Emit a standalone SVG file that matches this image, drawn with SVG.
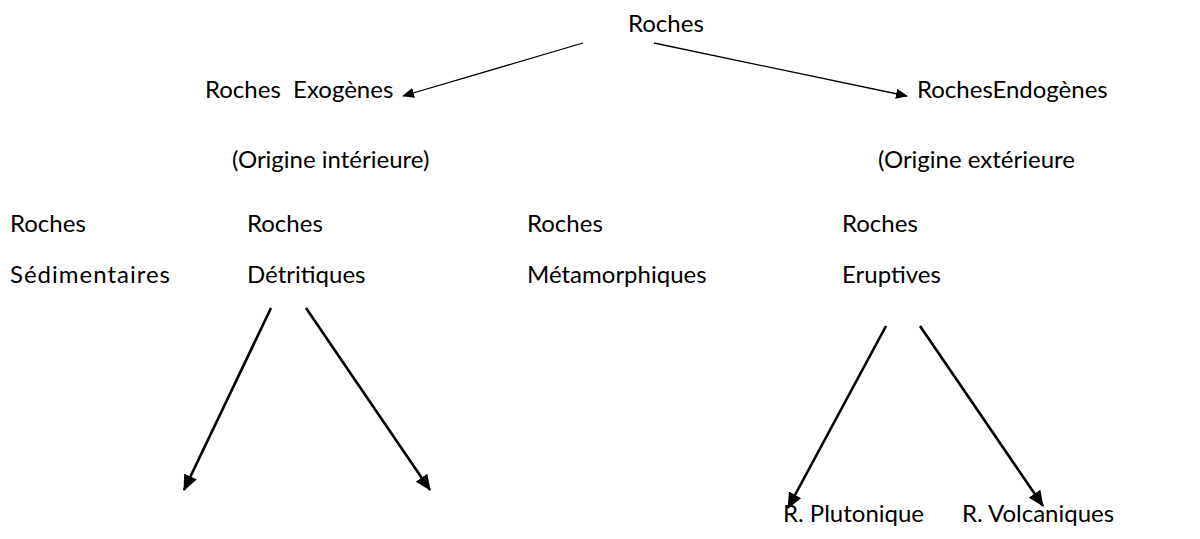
<svg xmlns="http://www.w3.org/2000/svg" width="1200" height="539" viewBox="0 0 1200 539">
<style>
text{font-family:Lato,"Open Sans","Liberation Sans",sans-serif;font-size:24px;fill:#000}
.thin{stroke:#000;stroke-width:1.3;fill:none}
.thick{stroke:#000;stroke-width:2.6;fill:none}
</style>
<defs>
<marker id="hs" markerWidth="12" markerHeight="10" refX="11" refY="5" orient="auto" markerUnits="userSpaceOnUse"><path d="M0,0 L12,5 L0,10 z" fill="#000"/></marker>
<marker id="hl" markerWidth="16" markerHeight="14" refX="15" refY="7" orient="auto" markerUnits="userSpaceOnUse"><path d="M0,0 L16,7 L0,14 z" fill="#000"/></marker>
</defs>
<rect width="1200" height="539" fill="#fff"/>
<g id="roches"><text x="628" y="32">Roches</text></g>
<g id="exogenes"><text x="205" y="98" xml:space="preserve">Roches  Exogènes</text><text x="232" y="168">(Origine intérieure)</text></g>
<g id="endogenes"><text x="917" y="98">RochesEndogènes</text><text x="878" y="168">(Origine extérieure</text></g>
<g id="sedimentaires"><text x="10" y="232">Roches</text><text x="10" y="283" textLength="160">Sédimentaires</text></g>
<g id="detritiques"><text x="247" y="232">Roches</text><text x="247" y="283">Détritiques</text></g>
<g id="metamorphiques"><text x="527" y="232">Roches</text><text x="527" y="283">Métamorphiques</text></g>
<g id="eruptives"><text x="842" y="232">Roches</text><text x="842" y="283">Eruptives</text></g>
<g id="plutonique"><text x="783" y="522">R. Plutonique</text></g>
<g id="volcaniques"><text x="962" y="522">R. Volcaniques</text></g>
<g id="connectors">
<line class="thin" x1="583" y1="43" x2="403" y2="96" marker-end="url(#hs)"/>
<line class="thin" x1="654" y1="43" x2="907" y2="96" marker-end="url(#hs)"/>
<line class="thick" x1="271" y1="308" x2="184" y2="490" marker-end="url(#hl)"/>
<line class="thick" x1="306" y1="308" x2="430" y2="490" marker-end="url(#hl)"/>
<line class="thick" x1="886" y1="326" x2="788" y2="508" marker-end="url(#hl)"/>
<line class="thick" x1="920" y1="326" x2="1043" y2="506" marker-end="url(#hl)"/>
</g>
</svg>
